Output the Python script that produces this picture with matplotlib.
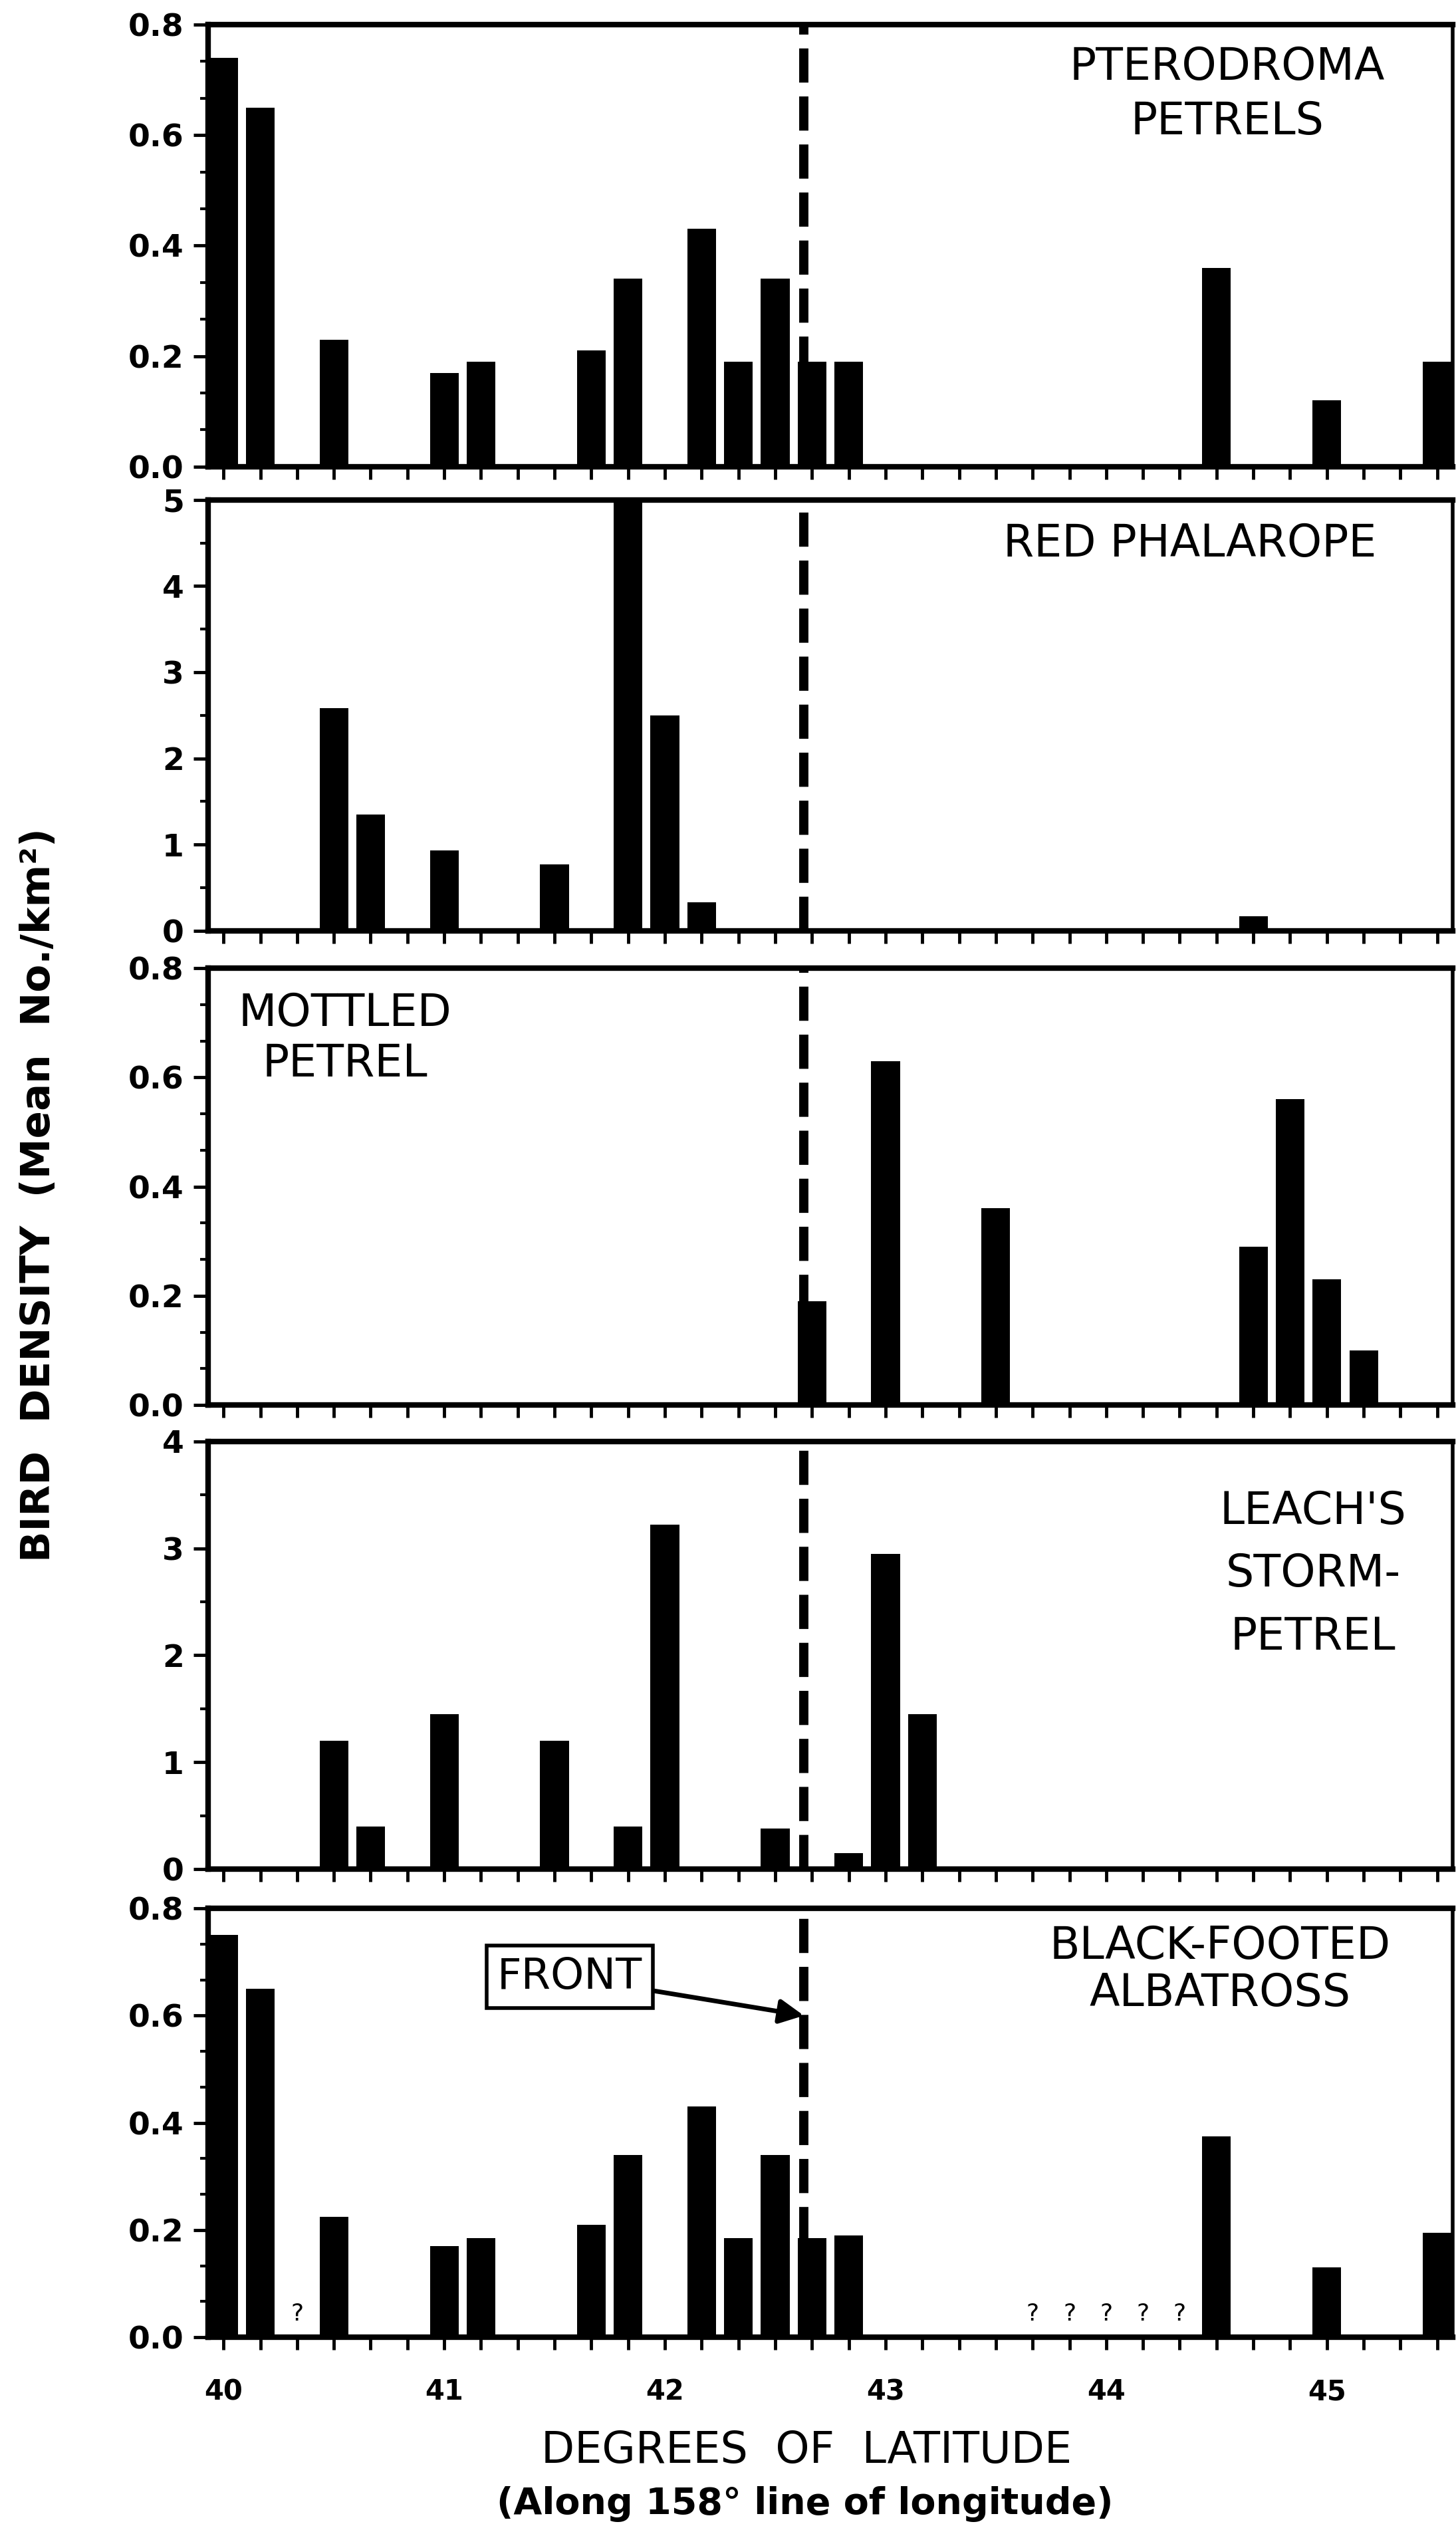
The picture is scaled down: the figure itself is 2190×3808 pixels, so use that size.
import matplotlib
matplotlib.use('Agg')
import matplotlib.pyplot as plt
from matplotlib.ticker import MultipleLocator, FormatStrFormatter

# bar positions are minutes of latitude north of 40 deg N (10' bins along 158 W)
pterodroma_min = [0, 10, 30, 60, 70, 100, 110, 130, 140, 150, 160, 170, 270, 300, 330]
pterodroma_val = [0.74, 0.65, 0.23, 0.17, 0.19, 0.21, 0.34, 0.43, 0.19, 0.34, 0.19, 0.19, 0.36, 0.12, 0.19]

phalarope_min = [30, 40, 60, 90, 110, 120, 130, 280]
phalarope_val = [2.58, 1.35, 0.93, 0.77, 5.0, 2.5, 0.33, 0.17]

mottled_min = [160, 180, 210, 280, 290, 300, 310]
mottled_val = [0.19, 0.63, 0.36, 0.29, 0.56, 0.23, 0.10]

leach_min = [30, 40, 60, 90, 110, 120, 150, 170, 180, 190]
leach_val = [1.2, 0.4, 1.45, 1.2, 0.4, 3.22, 0.38, 0.15, 2.95, 1.45]

albatross_min = [0, 10, 30, 60, 70, 100, 110, 130, 140, 150, 160, 170, 270, 300, 330]
albatross_val = [0.75, 0.65, 0.225, 0.17, 0.185, 0.21, 0.34, 0.43, 0.185, 0.34, 0.185, 0.19, 0.375, 0.13, 0.195]
albatross_unknown_min = [20, 220, 230, 240, 250, 260]

front_lat = 42.63


def to_lat(minutes):
    return [40 + m / 60.0 for m in minutes]


panels = [
    # (minutes, values, ymax, major, minor, label, label_xy, linespacing)
    (pterodroma_min, pterodroma_val, 0.8, 0.2, 0.2 / 3, 'PTERODROMA\nPETRELS', (0.819, 0.842), 1.3),
    (phalarope_min, phalarope_val, 5, 1, 0.5, 'RED PHALAROPE', (0.789, 0.898), 1.3),
    (mottled_min, mottled_val, 0.8, 0.2, 0.2 / 3, 'MOTTLED\nPETREL', (0.110, 0.839), 1.2),
    (leach_min, leach_val, 4, 1, 0.5, "LEACH'S\nSTORM-\nPETREL", (0.888, 0.690), 1.55),
    (albatross_min, albatross_val, 0.8, 0.2, 0.2 / 3, 'BLACK-FOOTED\nALBATROSS', (0.813, 0.857), 1.1),
]

# panel frames in figure fractions (left, bottom, width, height)
frames = [
    (0.1429, 0.8157, 0.8548, 0.1746),
    (0.1429, 0.6324, 0.8548, 0.1702),
    (0.1429, 0.4451, 0.8548, 0.1725),
    (0.1429, 0.2618, 0.8548, 0.1689),
    (0.1429, 0.0769, 0.8548, 0.1694),
]

fig = plt.figure(figsize=(21.9, 38.08), dpi=100)
fig.patch.set_facecolor('white')

axes = []
for i, (mins, vals, ymax, major, minor, label, (lx, ly), lsp) in enumerate(panels):
    ax = fig.add_axes(frames[i])
    axes.append(ax)
    ax.bar(to_lat(mins), vals, width=0.13, color='black', edgecolor='none', zorder=2)
    ax.axvline(front_lat, color='black', lw=10, dashes=(3.7, 1.5), zorder=3)
    ax.set_xlim(39.93, 45.57)
    ax.set_ylim(0, ymax)

    ax.xaxis.set_major_locator(MultipleLocator(1))
    ax.xaxis.set_minor_locator(MultipleLocator(1 / 6))
    ax.yaxis.set_major_locator(MultipleLocator(major))
    ax.yaxis.set_minor_locator(MultipleLocator(minor))
    if major < 1:
        ax.yaxis.set_major_formatter(FormatStrFormatter('%.1f'))
    else:
        ax.yaxis.set_major_formatter(FormatStrFormatter('%d'))

    ax.tick_params(axis='x', which='both', direction='out', length=14, width=3.5,
                   top=False, labelsize=30, pad=30)
    ax.tick_params(axis='y', which='major', direction='out', length=16, width=3.5,
                   right=False, labelsize=34, pad=10)
    ax.tick_params(axis='y', which='minor', direction='out', length=9, width=3, right=False)
    for lbl in ax.get_yticklabels() + ax.get_xticklabels():
        lbl.set_fontweight('bold')
    if i < len(panels) - 1:
        ax.tick_params(axis='x', which='both', labelbottom=False)

    for side in ['left', 'bottom', 'top']:
        ax.spines[side].set_linewidth(6)
    ax.spines['right'].set_linewidth(4)

    ax.text(lx, ly, label, transform=ax.transAxes, ha='center', va='center',
            fontsize=48, linespacing=lsp, family='DejaVu Sans')

ax5 = axes[-1]
for m in albatross_unknown_min:
    ax5.text(40 + m / 60.0, 0.022, '?', ha='center', va='bottom', fontsize=26)

ax5.annotate('FRONT', xy=(front_lat, 0.6), xytext=(41.57, 0.672), textcoords='data',
             ha='center', va='center', fontsize=46,
             bbox=dict(boxstyle='square,pad=0.25', facecolor='white', edgecolor='black', lw=4),
             arrowprops=dict(arrowstyle='-|>', color='black', lw=5, mutation_scale=55,
                             shrinkA=0, shrinkB=0),
             zorder=5)

fig.text(0.0265, 0.528, 'BIRD  DENSITY  (Mean  No./km²)', rotation=90,
         ha='center', va='center', fontsize=44, fontweight='bold')
fig.text(0.554, 0.032, 'DEGREES  OF  LATITUDE', ha='center', va='center', fontsize=47)
fig.text(0.553, 0.011, '(Along 158° line of longitude)', ha='center', va='center',
         fontsize=40, fontweight='bold')

fig.savefig('out.png', dpi=100, facecolor='white')
